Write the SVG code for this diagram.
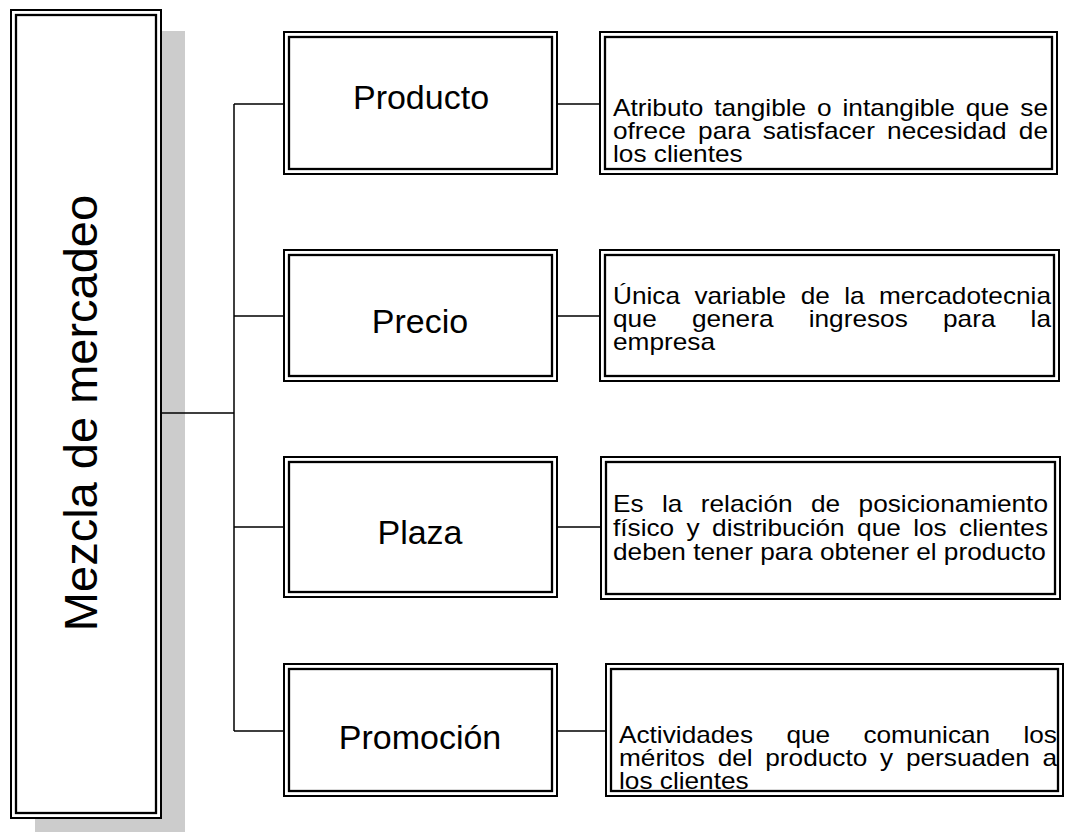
<svg xmlns="http://www.w3.org/2000/svg" width="1065" height="836" viewBox="0 0 1065 836">
<style>
.o{fill:#fff;stroke:#000;stroke-width:2}
.i{fill:none;stroke:#000;stroke-width:2.3}
.c{fill:none;stroke:#000;stroke-width:1.5}
.t{font-family:"Liberation Sans",Arial,sans-serif;fill:#000}
.tt{font-size:34px;text-anchor:middle}
.d{font-size:23px}
.e{text-anchor:end}
</style>
<rect width="1065" height="836" fill="#fff"/>
<g id="mezcla">
<rect x="35" y="31" width="150" height="801" fill="#cccccc"/>
<rect class="o" x="11" y="10" width="150" height="808"/>
<rect class="i" x="16" y="15" width="140" height="798"/>
<text class="t" font-size="47" text-anchor="middle" transform="translate(97,413) rotate(-90)">Mezcla de mercadeo</text>
</g>
<g id="connectors">
<path class="c" d="M161 413H234M234 104V731M234 104H284M234 316H284M234 527H284M234 731H284M557 104H600M557 316H600M557 527H601M557 731H606"/>
</g>
<g id="producto">
<rect class="o" x="284" y="32" width="273" height="142"/>
<rect class="i" x="289" y="37" width="263" height="132"/>
<text class="t tt" x="421" y="109">Producto</text>
</g>
<g id="precio">
<rect class="o" x="284" y="250" width="273" height="131"/>
<rect class="i" x="289" y="255" width="263" height="121"/>
<text class="t tt" x="420" y="333">Precio</text>
</g>
<g id="plaza">
<rect class="o" x="284" y="457" width="273" height="140"/>
<rect class="i" x="289" y="462" width="263" height="130"/>
<text class="t tt" x="420" y="544">Plaza</text>
</g>
<g id="promocion">
<rect class="o" x="284" y="664" width="273" height="132"/>
<rect class="i" x="289" y="669" width="263" height="122"/>
<text class="t tt" x="420" y="749">Promoción</text>
</g>
<g id="desc-producto">
<rect class="o" x="600" y="32" width="457" height="142"/>
<rect class="i" x="605" y="37" width="447" height="132"/>
<text class="t d" transform="translate(613,0) scale(1.14,1)"><tspan x="0" y="116">Atributo</tspan><tspan x="88.86" y="116">tangible</tspan><tspan x="178.95" y="116">o</tspan><tspan x="201.32" y="116">intangible</tspan><tspan x="309.39" y="116">que</tspan><tspan class="e" x="381.58" y="116">se</tspan><tspan x="0" y="139">ofrece</tspan><tspan x="74.65" y="139">para</tspan><tspan x="131.32" y="139">satisfacer</tspan><tspan x="240.44" y="139">necesidad</tspan><tspan class="e" x="381.58" y="139">de</tspan><tspan x="0" y="162">los clientes</tspan></text>
</g>
<g id="desc-precio">
<rect class="o" x="600" y="250" width="459" height="131"/>
<rect class="i" x="605" y="255" width="449" height="121"/>
<text class="t d" transform="translate(613,0) scale(1.14,1)"><tspan x="0" y="304">Única</tspan><tspan x="71.4" y="304">variable</tspan><tspan x="164.65" y="304">de</tspan><tspan x="202.81" y="304">la</tspan><tspan class="e" x="384.21" y="304">mercadotecnia</tspan><tspan x="0" y="327">que</tspan><tspan x="69.21" y="327">genera</tspan><tspan x="171.67" y="327">ingresos</tspan><tspan x="289.47" y="327">para</tspan><tspan class="e" x="384.21" y="327">la</tspan><tspan x="0" y="350">empresa</tspan></text>
</g>
<g id="desc-plaza">
<rect class="o" x="601" y="457" width="459" height="142"/>
<rect class="i" x="606" y="462" width="449" height="132"/>
<text class="t d" transform="translate(613,0) scale(1.14,1)"><tspan x="0" y="512">Es</tspan><tspan x="42.98" y="512">la</tspan><tspan x="77.02" y="512">relación</tspan><tspan x="173.68" y="512">de</tspan><tspan class="e" x="381.58" y="512">posicionamiento</tspan><tspan x="0" y="536">físico</tspan><tspan x="64.56" y="536">y</tspan><tspan x="86.93" y="536">distribución</tspan><tspan x="214.12" y="536">que</tspan><tspan x="263.33" y="536">los</tspan><tspan class="e" x="381.58" y="536">clientes</tspan><tspan x="0" y="560">deben tener para obtener el producto</tspan></text>
</g>
<g id="desc-promocion">
<rect class="o" x="606" y="664" width="457" height="132"/>
<rect class="i" x="611" y="669" width="447" height="122"/>
<text class="t d" transform="translate(619,0) scale(1.14,1)"><tspan x="0" y="743">Actividades</tspan><tspan x="146.84" y="743">que</tspan><tspan x="214.39" y="743">comunican</tspan><tspan class="e" x="384.21" y="743">los</tspan><tspan x="0" y="766">méritos</tspan><tspan x="86.58" y="766">del</tspan><tspan x="128.33" y="766">producto</tspan><tspan x="228.95" y="766">y</tspan><tspan x="251.67" y="766">persuaden</tspan><tspan class="e" x="384.21" y="766">a</tspan><tspan x="0" y="789">los clientes</tspan></text>
</g>
</svg>
